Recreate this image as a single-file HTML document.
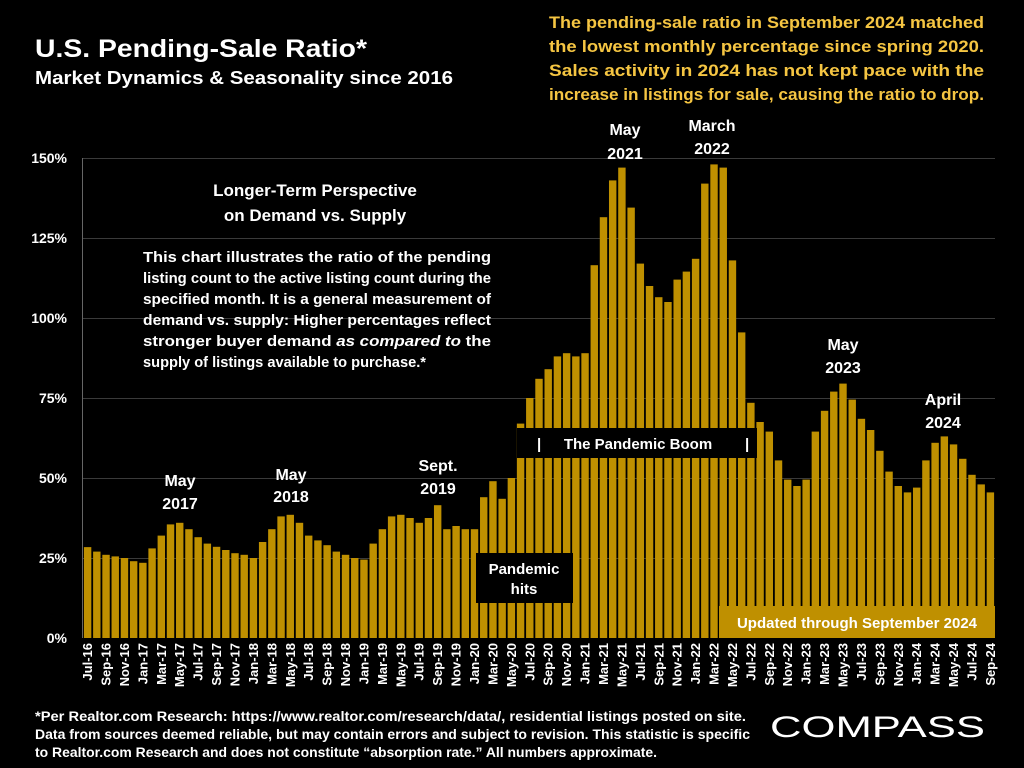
<!DOCTYPE html>
<html><head><meta charset="utf-8"><style>
body{margin:0;background:#000;width:1024px;height:768px;overflow:hidden;font-family:"Liberation Sans",sans-serif;}
</style></head><body>
<svg id="s" width="1024" height="768" xmlns="http://www.w3.org/2000/svg" style="position:absolute;left:0;top:0;font-family:'Liberation Sans',sans-serif;font-weight:bold">
<rect width="1024" height="768" fill="#000"/>
<g id="grid" stroke="#3a3a3a" stroke-width="1"></g>
<line x1="82.5" y1="158" x2="82.5" y2="638" stroke="#666"/>
<g id="bars"></g>
<g id="xl" fill="#fff" font-size="13"></g>
<g fill="#fff" font-size="14" text-anchor="end">
<text x="67" y="163">150%</text><text x="67" y="243">125%</text><text x="67" y="323">100%</text>
<text x="67" y="403">75%</text><text x="67" y="483">50%</text><text x="67" y="563">25%</text><text x="67" y="643">0%</text>
</g>
<text x="35" y="57" fill="#fff" font-size="25" textLength="332" lengthAdjust="spacingAndGlyphs">U.S. Pending-Sale Ratio*</text>
<text x="35" y="84" fill="#fff" font-size="18" textLength="418" lengthAdjust="spacingAndGlyphs">Market Dynamics &amp; Seasonality since 2016</text>
<g fill="#f5c542" font-size="17">
<text x="549" y="28" textLength="435" lengthAdjust="spacingAndGlyphs">The pending-sale ratio in September 2024 matched</text>
<text x="549" y="52" textLength="435" lengthAdjust="spacingAndGlyphs">the lowest monthly percentage since spring 2020.</text>
<text x="549" y="76" textLength="435" lengthAdjust="spacingAndGlyphs">Sales activity in 2024 has not kept pace with the</text>
<text x="549" y="100" textLength="435" lengthAdjust="spacingAndGlyphs">increase in listings for sale, causing the ratio to drop.</text>
</g>
<g fill="#fff" font-size="17" text-anchor="middle">
<text x="315" y="196">Longer-Term Perspective</text>
<text x="315" y="221">on Demand vs. Supply</text>
</g>
<g fill="#fff" font-size="14.5">
<text x="143" y="262" textLength="348" lengthAdjust="spacingAndGlyphs">This chart illustrates the ratio of the pending</text>
<text x="143" y="283" textLength="348" lengthAdjust="spacingAndGlyphs">listing count to the active listing count during the</text>
<text x="143" y="304" textLength="348" lengthAdjust="spacingAndGlyphs">specified month. It is a general measurement of</text>
<text x="143" y="325" textLength="348" lengthAdjust="spacingAndGlyphs">demand vs. supply:  Higher percentages reflect</text>
<text x="143" y="346" textLength="348" lengthAdjust="spacingAndGlyphs">stronger buyer demand <tspan font-style="italic">as compared to</tspan> the</text>
<text x="143" y="367" textLength="283" lengthAdjust="spacingAndGlyphs">supply of listings available to purchase.*</text>
</g>
<g fill="#fff" font-size="16" text-anchor="middle">
<text x="180" y="486">May</text><text x="180" y="509">2017</text>
<text x="291" y="480">May</text><text x="291" y="502">2018</text>
<text x="438" y="471">Sept.</text><text x="438" y="494">2019</text>
<text x="625" y="135">May</text><text x="625" y="159">2021</text>
<text x="712" y="131">March</text><text x="712" y="154">2022</text>
<text x="843" y="350">May</text><text x="843" y="373">2023</text>
<text x="943" y="405">April</text><text x="943" y="428">2024</text>
</g>
<rect x="517" y="428" width="240" height="30" fill="#000"/>
<text x="537" y="449" fill="#fff" font-size="15">|</text>
<text x="638" y="449" fill="#fff" font-size="15" text-anchor="middle">The Pandemic Boom</text>
<text x="745" y="449" fill="#fff" font-size="15">|</text>
<rect x="476" y="553" width="97" height="50" fill="#000"/>
<text x="524" y="574" fill="#fff" font-size="15" text-anchor="middle">Pandemic</text>
<text x="524" y="594" fill="#fff" font-size="15" text-anchor="middle">hits</text>
<rect x="719" y="606" width="276" height="32" fill="#bf9000"/>
<text x="857" y="628" fill="#fff" font-size="15" text-anchor="middle">Updated through September 2024</text>
<g fill="#fff" font-size="13.5">
<text x="35" y="721" textLength="711" lengthAdjust="spacingAndGlyphs">*Per Realtor.com Research:  https://www.realtor.com/research/data/, residential listings posted on site.</text>
<text x="35" y="739" textLength="715" lengthAdjust="spacingAndGlyphs">Data from sources deemed reliable, but may contain errors and subject to revision. This statistic is specific</text>
<text x="35" y="757" textLength="622" lengthAdjust="spacingAndGlyphs">to Realtor.com Research and does not constitute “absorption rate.” All numbers approximate.</text>
</g>
<text x="770" y="737" fill="#fff" font-size="30" font-weight="normal" textLength="215" lengthAdjust="spacingAndGlyphs">COMPASS</text>
</svg>
<script>
var v=[28.4,27,26,25.5,25,24,23.5,28,32,35.5,36,34,31.5,29.5,28.5,27.5,26.5,26,25,30,34,38,38.5,36,32,30.5,29,27,26,25,24.5,29.5,34,38,38.5,37.5,36,37.5,41.5,34,35,34,34,44,49,43.5,50,67,75,81,84,88,89,88,89,116.5,131.5,143,147,134.5,117,110,106.5,105,112,114.5,118.5,142,148,147,118,95.5,73.5,67.5,64.5,55.5,49.5,47.5,49.5,64.5,71,77,79.5,74.5,68.5,65,58.5,52,47.5,45.5,47,55.5,61,63,60.5,56,51,48,45.5];
var mo=["Jan","Feb","Mar","Apr","May","Jun","Jul","Aug","Sep","Oct","Nov","Dec"];
var ns="http://www.w3.org/2000/svg",b=document.getElementById("bars"),g=document.getElementById("grid"),xl=document.getElementById("xl");
[25,50,75,100,125,150].forEach(function(p){var l=document.createElementNS(ns,"line");var y=638-p*3.2+0.5;l.setAttribute("x1",82);l.setAttribute("x2",995);l.setAttribute("y1",y);l.setAttribute("y2",y);g.appendChild(l);});
var w=(995-83)/99;
v.forEach(function(p,i){var r=document.createElementNS(ns,"rect");var x=83+i*w+0.9;r.setAttribute("x",x);r.setAttribute("width",w-1.8);var h=p*3.2;r.setAttribute("y",638-h);r.setAttribute("height",h);r.setAttribute("fill","#bf9000");b.appendChild(r);
if(i%2==0){var m=(6+i)%12,yr=16+Math.floor((6+i)/12);var t=document.createElementNS(ns,"text");var cx=x+(w-1.8)/2+4.5;t.setAttribute("transform","translate("+cx+",643) rotate(-90)");t.setAttribute("text-anchor","end");t.textContent=mo[m]+"-"+yr;xl.appendChild(t);}});
</script>
</body></html>
